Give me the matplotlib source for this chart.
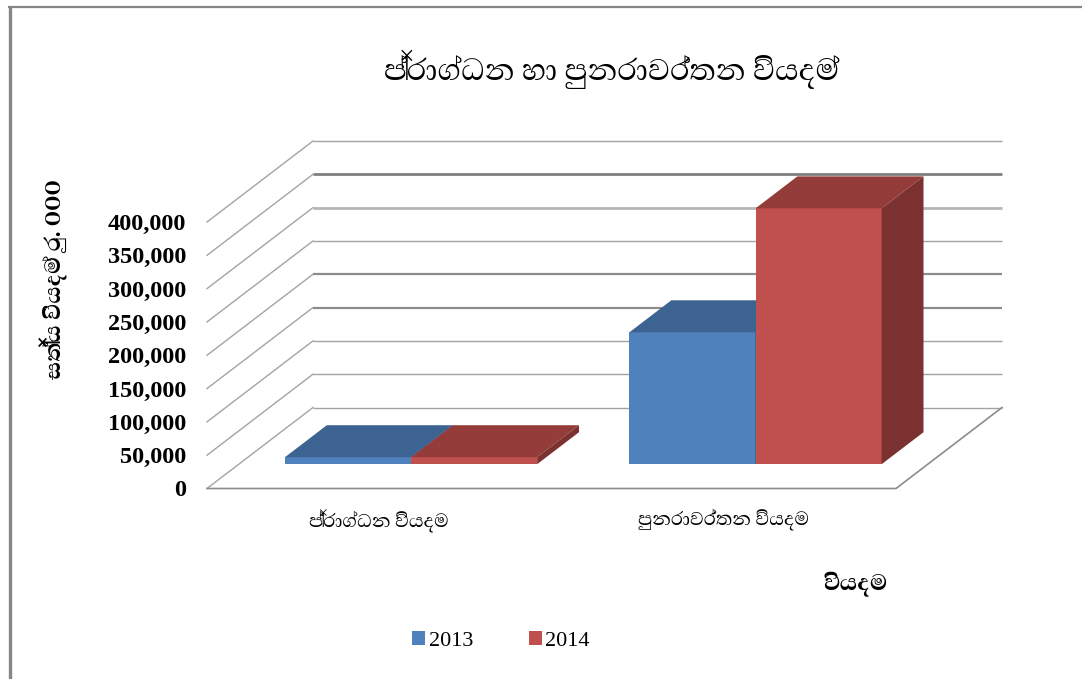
import matplotlib
matplotlib.use('Agg')
import matplotlib.pyplot as plt
from matplotlib.lines import Line2D
from matplotlib.patches import Polygon, Patch

title = 'ප්‍රාග්ධන හා පුනරාවර්තන වියදම්'
y_title = 'සත්‍ය වියදම් රු. 000'
x_title = 'වියදම'
categories = ['ප්‍රාග්ධන වියදම', 'පුනරාවර්තන වියදම']
years = ['2013', '2014']
values_2013 = [10500, 198000]
values_2014 = [10500, 384000]
y_ticks = [0, 50000, 100000, 150000, 200000, 250000, 300000, 350000, 400000]

W, H = 1082, 679
FONT = ['Abhaya Libre', 'Liberation Serif', 'DejaVu Sans']
GRID = '#a3a3a3'

# oblique depth of the floor, in data units
DX = 106 / 689 * 2
DY = 81 / 266.5 * 400000
BAR_W = 0.366


def proj(x, v, d):
    return (x + d * DX, v + d * DY)


def draw_bar(ax, x, v, color, top, side, z):
    d0, d1 = 0.3, 0.695
    x1 = x + BAR_W
    ax.add_patch(Polygon([proj(x, 0, d0), proj(x1, 0, d0), proj(x1, v, d0), proj(x, v, d0)],
                         fc=color, ec='none', zorder=z, clip_on=False))
    ax.add_patch(Polygon([proj(x, v, d0), proj(x1, v, d0), proj(x1, v, d1), proj(x, v, d1)],
                         fc=top, ec='none', zorder=z, clip_on=False))
    ax.add_patch(Polygon([proj(x1, 0, d0), proj(x1, 0, d1), proj(x1, v, d1), proj(x1, v, d0)],
                         fc=side, ec='none', zorder=z, clip_on=False))


fig = plt.figure(figsize=(W / 100, H / 100), dpi=100)
ax = fig.add_axes([207 / W, 1 - 488.5 / H, 689 / W, 266.5 / H])
ax.set_xlim(0, 2)
ax.set_ylim(0, 400000)
for s in ax.spines.values():
    s.set_visible(False)
ax.patch.set_alpha(0)

# walls and floor
heavy = {350000: ('#808080', 2.0), 300000: ('#b5b5b5', 2.0), 200000: ('#8c8c8c', 1.6), 150000: ('#8c8c8c', 1.6)}
for v in y_ticks:
    col, lw = heavy.get(v, (GRID, 1.0))
    xs, ys = zip(proj(0, v, 0), proj(0, v, 1))
    ax.plot(xs, ys, color=GRID, lw=1.0, clip_on=False, zorder=1)
    xs, ys = zip(proj(0, v, 1), proj(2, v, 1))
    ax.plot(xs, ys, color=col, lw=lw, clip_on=False, zorder=1, solid_capstyle='butt')
xs, ys = zip(proj(0, 0, 0), proj(2, 0, 0), proj(2, 0, 1))
ax.plot(xs, ys, color='#8c8c8c', lw=1.2, clip_on=False, zorder=1)

# bars
colors = [('#4f81bd', '#3c6391', '#2f4e73'), ('#c0504d', '#943c3a', '#7b3130')]
for i in range(len(categories)):
    left = i + 0.5 - BAR_W
    draw_bar(ax, left, values_2013[i], *colors[0], 2 + i)
    draw_bar(ax, left + BAR_W, values_2014[i], *colors[1], 2.5 + i)

ax.set_yticks(y_ticks, [f'{v:,}' for v in y_ticks], family='Liberation Serif', fontsize=17.5, fontweight='bold')
ax.set_xticks([0.5, 1.5], categories, family=FONT, fontsize=17.5)
ax.tick_params(axis='y', length=0, pad=15)
ax.tick_params(axis='x', length=0, pad=15)

ax.set_title(title, family=FONT, fontsize=28, x=(612 - 207) / 689, y=(488.5 - 78) / 266.5, va='center')
ax.set_ylabel(y_title, family=FONT, fontsize=20.5, fontweight='bold')
ax.yaxis.set_label_coords((68 - 207) / 689, (488.5 - 279) / 266.5)
ax.set_xlabel(x_title, family=FONT, fontsize=21, fontweight='bold')
ax.xaxis.set_label_coords((855 - 207) / 689, (488.5 - 572) / 266.5)

handles = [Patch(fc=colors[0][0]), Patch(fc=colors[1][0])]
fig.legend(handles, years, loc='center', bbox_to_anchor=(501 / W, 1 - 641 / H), ncol=2, frameon=False,
           prop={'family': 'Liberation Serif', 'size': 16}, handlelength=0.6, handleheight=0.55,
           handletextpad=0.15, columnspacing=2.5)

# chart frame
fig.add_artist(Line2D([9.5 / W, 9.5 / W], [0, 1 - 6 / H], color='#868686', lw=2.4, solid_capstyle='butt'))
fig.add_artist(Line2D([8 / W, 1], [1 - 7 / H, 1 - 7 / H], color='#868686', lw=1.6, solid_capstyle='butt'))

fig.savefig('out.png', dpi=100)
